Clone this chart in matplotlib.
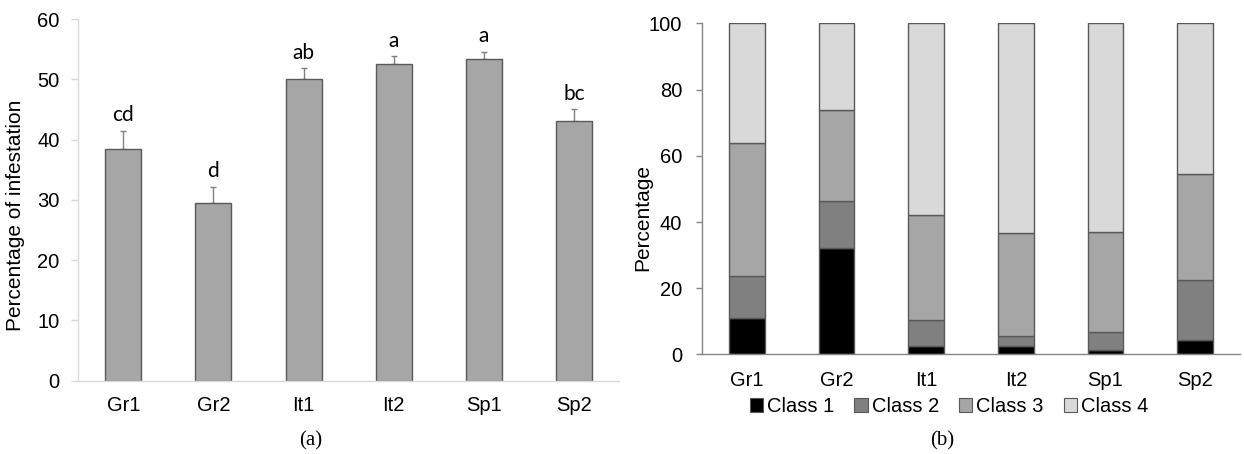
import matplotlib
matplotlib.use("Agg")
import matplotlib.pyplot as plt
import numpy as np
from matplotlib.patches import Patch

categories = ["Gr1", "Gr2", "It1", "It2", "Sp1", "Sp2"]
infestation = [38.5, 29.4, 50.0, 52.6, 53.3, 43.0]
infestation_err = [3.0, 2.8, 1.8, 1.2, 1.3, 2.0]
letters = ["cd", "d", "ab", "a", "a", "bc"]

class_names = ["Class 1", "Class 2", "Class 3", "Class 4"]
class1 = [11.1, 32.3, 2.5, 2.5, 1.3, 4.4]
class2 = [12.5, 13.9, 7.8, 3.1, 5.4, 18.0]
class3 = [40.3, 27.5, 31.9, 31.0, 30.2, 32.0]
class4 = [36.1, 26.3, 57.8, 63.4, 63.1, 45.6]

class_colors = ["#000000", "#808080", "#a6a6a6", "#d9d9d9"]

plt.rcParams['font.family'] = ['Liberation Sans', 'DejaVu Sans']
fig = plt.figure(figsize=(12.44, 4.54), dpi=100)

FS = 14.5
x = np.arange(len(categories))

# ---------- Panel (a) ----------
ax1 = fig.add_axes([0.0629, 0.1615, 0.4347, 0.7966])
ax1.bar(x, infestation, width=0.4, color="#a6a6a6", edgecolor="#595959", linewidth=1.0,
        zorder=2)
ax1.errorbar(x, infestation, yerr=[np.zeros(len(x)), infestation_err], fmt="none",
             ecolor="#808080", elinewidth=1.0, capsize=2.5, capthick=1.0, zorder=1)
for xi, v, e, lab in zip(x, infestation, infestation_err, letters):
    ax1.annotate(lab, (xi, v + e), xytext=(0, 4), textcoords="offset points",
                 ha="center", va="bottom", fontsize=15, family=["Lato", "DejaVu Sans"])
ax1.set_xlim(-0.5, len(categories) - 0.5)
ax1.set_ylim(0, 60)
ax1.set_yticks(range(0, 61, 10))
ax1.set_xticks(x)
ax1.set_xticklabels(categories, fontsize=FS)
ax1.tick_params(axis="y", labelsize=FS, length=5, pad=8.5, color="#d9d9d9", width=1)
ax1.tick_params(axis="x", length=0, pad=11)
for s in ["top", "right"]:
    ax1.spines[s].set_visible(False)
for s in ["left", "bottom"]:
    ax1.spines[s].set_color("#d9d9d9")
    ax1.spines[s].set_linewidth(1.0)
ax1.set_ylabel("Percentage of infestation", fontsize=15)
ax1.yaxis.set_label_coords(-0.0986, 0.458)

# ---------- Panel (b) ----------
ax2 = fig.add_axes([0.5643, 0.2192, 0.4325, 0.7295])
bottom = np.zeros(len(categories))
for name, vals, col in zip(class_names, [class1, class2, class3, class4], class_colors):
    ax2.bar(x, vals, width=0.4, bottom=bottom, color=col, edgecolor="#595959",
            linewidth=1.0, label=name, zorder=2)
    bottom = bottom + np.array(vals)
ax2.set_xlim(-0.5, len(categories) - 0.5)
ax2.set_ylim(0, 100)
ax2.set_yticks(range(0, 101, 20))
ax2.set_xticks(x)
ax2.set_xticklabels(categories, fontsize=FS)
ax2.tick_params(axis="y", labelsize=FS, length=4.3, pad=10, color="#868686", width=1)
ax2.tick_params(axis="x", length=0, pad=12)
for s in ["top", "right"]:
    ax2.spines[s].set_visible(False)
for s in ["left", "bottom"]:
    ax2.spines[s].set_color("#868686")
    ax2.spines[s].set_linewidth(1.0)
ax2.set_ylabel("Percentage", fontsize=15)
ax2.yaxis.set_label_coords(-0.0921, 0.415)

handles = [Patch(facecolor=c, edgecolor="#595959", linewidth=0.8) for c in class_colors]
fig.legend(handles, class_names, loc="center", bbox_to_anchor=(949 / 1244, 1 - 406.7 / 454),
           ncol=4, frameon=False, fontsize=FS, handlelength=0.65, handleheight=0.65,
           handletextpad=0.2, columnspacing=1.0, borderpad=0)

# captions
fig.text(311 / 1244, 1 - 441 / 454, "(a)", ha="center", va="center", fontsize=15,
         family=["Liberation Serif", "DejaVu Serif"])
fig.text(942 / 1244, 1 - 441 / 454, "(b)", ha="center", va="center", fontsize=15,
         family=["Liberation Serif", "DejaVu Serif"])

fig.savefig("out.png", dpi=100)
